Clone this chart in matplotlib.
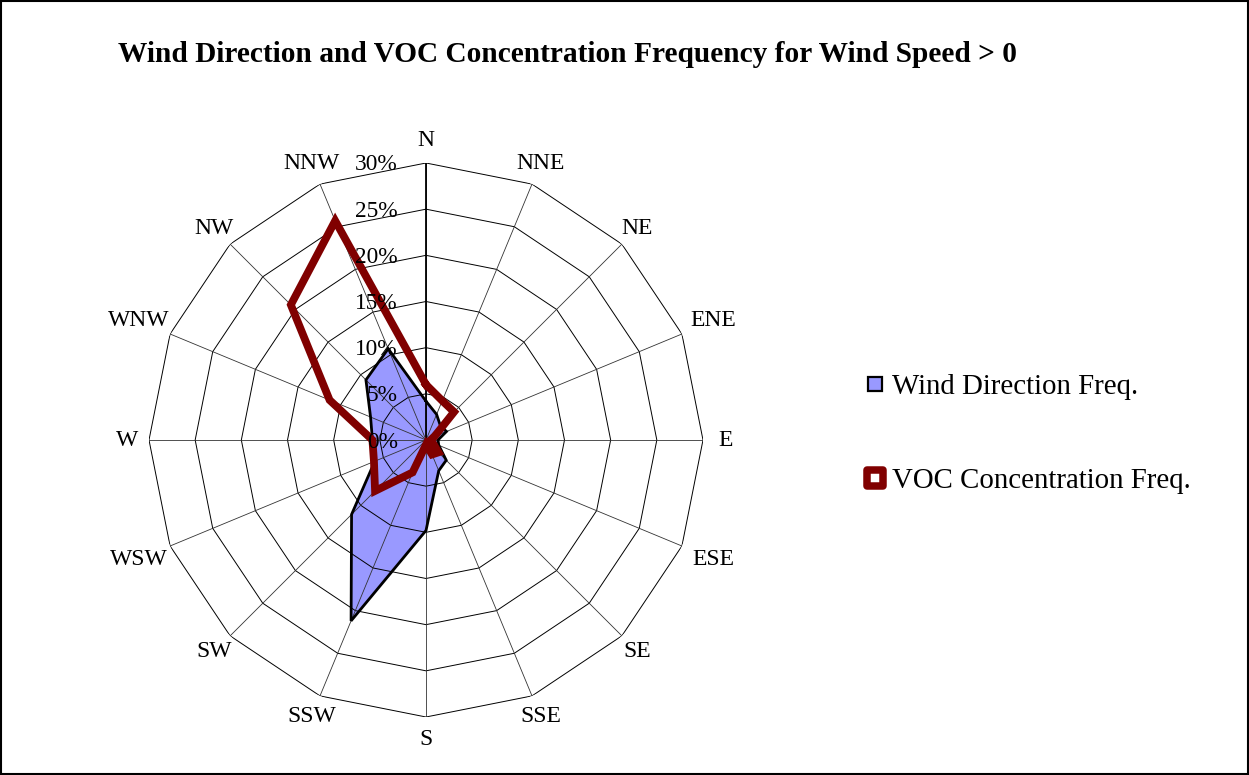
import numpy as np
import matplotlib
matplotlib.use('Agg')
import matplotlib.pyplot as plt
from matplotlib.lines import Line2D
from matplotlib.patches import Rectangle
from matplotlib.markers import MarkerStyle
import matplotlib.transforms as mtransforms

directions = ['N', 'NNE', 'NE', 'ENE', 'E', 'ESE', 'SE', 'SSE',
              'S', 'SSW', 'SW', 'WSW', 'W', 'WNW', 'NW', 'NNW']
wind_freq = [4.2, 3.0, 2.2, 2.4, 1.3, 1.5, 3.1, 3.6,
             9.8, 21.2, 11.4, 6.0, 5.8, 6.5, 9.2, 10.7]
voc_freq = [6.0, 4.6, 4.3, 1.0, 0.5, 0.8, 1.9, 1.7,
            0.5, 3.8, 7.8, 6.1, 5.8, 11.3, 20.7, 25.7]
r_ticks = [0, 5, 10, 15, 20, 25, 30]
r_labels = ['0%', '5%', '10%', '15%', '20%', '25%', '30%']
series_names = ['Wind Direction Freq.', 'VOC Concentration Freq.']
title = 'Wind Direction and VOC Concentration Frequency for Wind Speed > 0'

SERIF = 'Liberation Serif'
W, H = 1249, 775
fig = plt.figure(figsize=(W / 100, H / 100), dpi=100)
cx, cy, R = 426, 440, 277
ax = fig.add_axes([(cx - R) / W, (H - cy - R) / H, 2 * R / W, 2 * R / H],
                  projection='polar')
ax.set_theta_zero_location('N')
ax.set_theta_direction(-1)
ax.grid(False)
ax.set_xticks([])
ax.set_yticks([])
ax.spines['polar'].set_visible(False)
ax.patch.set_visible(False)

n = len(directions)
theta = np.deg2rad(np.arange(n) * 360.0 / n)
tc = np.append(theta, theta[0])

# polygon rings
for r in r_ticks[1:]:
    ax.plot(tc, [r] * (n + 1), color='black', lw=0.7, zorder=3)
# spokes
for t in theta:
    ax.plot([t, t], [0, r_ticks[-1]], color='#333333', lw=0.6, zorder=3)
ax.plot([0, 0], [0, r_ticks[-1]], color='black', lw=1.3, zorder=3)

# series
wc = np.append(wind_freq, wind_freq[0])
vc = np.append(voc_freq, voc_freq[0])
ax.fill(tc, wc, facecolor='#9999FF', edgecolor='none', zorder=2)
ax.plot(tc, wc, color='black', lw=2.0, zorder=4, solid_joinstyle='miter')
ax.plot(tc, vc, color='#800000', lw=5.6, zorder=5, solid_joinstyle='miter')

ax.set_ylim(0, r_ticks[-1])

# radial tick labels
off = mtransforms.offset_copy(ax.transData, fig=fig, x=-28, y=-2, units='dots')
for r, lab in zip(r_ticks, r_labels):
    ax.text(0, r, lab, transform=off, ha='right', va='center',
            fontsize=16.8, family=SERIF, zorder=6)

# direction labels
for t, lab in zip(theta, directions):
    extra = 1.3 if (len(lab) == 3 and abs(np.sin(t)) > 0.9) else 0.0
    ax.text(t, 32.4 + extra, lab, ha='center', va='center',
            fontsize=17, family=SERIF)

# title
fig.text(118 / W, 1 - 54 / H, title, ha='left', va='center',
         fontsize=21.2, fontweight='bold', family=SERIF)

# legend
h1 = Line2D([], [], linestyle='none', marker='s', markersize=10.5,
            markerfacecolor='#9999FF', markeredgecolor='black',
            markeredgewidth=1.6)
h2 = Line2D([], [], linestyle='none',
            marker=MarkerStyle('s', joinstyle='round'), markersize=11.2,
            markerfacecolor='white', markeredgecolor='#800000',
            markeredgewidth=5.4)
fig.legend([h1, h2], series_names, loc='center left',
           bbox_to_anchor=(865 / W, 1 - 434 / H), frameon=False,
           prop={'family': SERIF, 'size': 20.8}, handlelength=0.7,
           handletextpad=0.25, labelspacing=2.35, borderpad=0,
           borderaxespad=0)

# outer frame
fig.add_artist(Rectangle((0.0008, 0.0013), 0.9984, 0.9974,
                         transform=fig.transFigure, fill=False,
                         edgecolor='black', lw=1.5))

fig.savefig('out.png', dpi=100)
